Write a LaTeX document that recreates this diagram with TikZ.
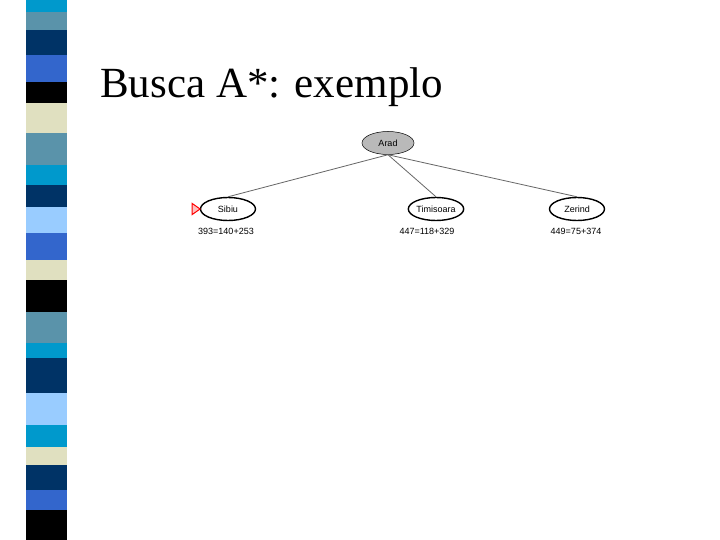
\documentclass[tikz,border=0pt]{standalone}
\usepackage{fontspec}
\usetikzlibrary{shapes.geometric}
\setmainfont{Liberation Serif}
\newfontfamily\lab{Liberation Sans}
\definecolor{cy}{HTML}{0099CC}\definecolor{st}{HTML}{5A93AA}\definecolor{nv}{HTML}{003366}
\definecolor{rb}{HTML}{3366CC}\definecolor{bg}{HTML}{E0E0C0}\definecolor{lb}{HTML}{99CCFF}
\begin{document}
\begin{tikzpicture}[x=1pt,y=-1pt,
  tn/.style={ellipse,draw,line width=1.4pt,minimum width=55pt,minimum height=23pt,inner sep=0pt,font=\lab\fontsize{9}{10}\selectfont},
  cost/.style={font=\lab\fontsize{9}{10}\selectfont},
  edge/.style={draw=gray!80!black,line width=0.8pt}]
\useasboundingbox (0,0) rectangle (720,540);
\fill[white] (0,0) rectangle (720,540);
\foreach \a/\b/\c in {0/12/cy,12/30/st,30/55/nv,55/82/rb,82/103/black,103/133/bg,133/165/st,165/185/cy,185/207/nv,207/233/lb,233/260/rb,260/280/bg,280/312/black,312/343/st,343/358/cy,358/393/nv,393/425/lb,425/447/cy,447/465/bg,465/490/nv,490/510/rb,510/540/black}
  \fill[\c] (26,\a) rectangle (67,\b);
\node[anchor=base west,font=\fontsize{43}{46}\selectfont,inner sep=0pt] (title) at (100,98) {Busca A*: exemplo};
\node[tn,fill=gray!55,line width=0.5pt,minimum width=52pt] (arad) at (388,143) {Arad};
\node[tn] (sib) at (228,209) {Sibiu};
\node[tn] (tim) at (436,209) {Timisoara};
\node[tn] (zer) at (577,209) {Zerind};
\draw[edge] (arad.south) -- (sib.north);
\draw[edge] (arad.south) -- (tim.north);
\draw[edge] (arad.south) -- (zer.north);
\node[cost] (c1) at (226,231) {393=140+253};
\node[cost] (c2) at (427,231) {447=118+329};
\node[cost] (c3) at (576,231) {449=75+374};
\node[draw=red,fill=red!25,line width=1pt,isosceles triangle,isosceles triangle apex angle=70,minimum height=8pt,inner sep=0pt] (mk) at (195,209) {};
\end{tikzpicture}
\end{document}
